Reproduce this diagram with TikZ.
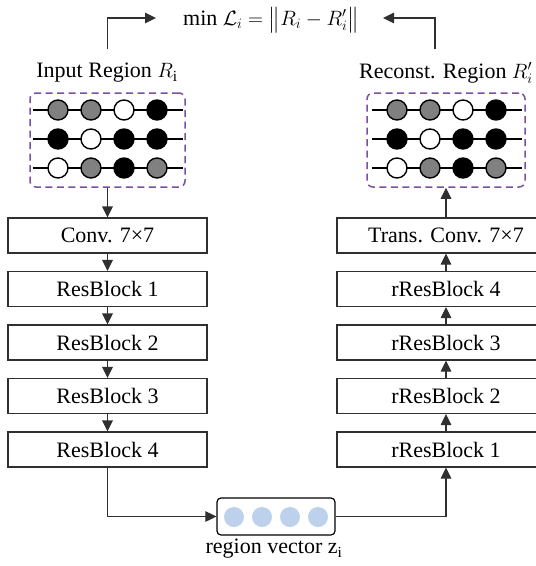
\documentclass[tikz,border=0pt]{standalone}
\usepackage{amsmath}
\usepackage{fontspec}
\setmainfont{Liberation Serif}
\usetikzlibrary{arrows.meta}
\definecolor{lncol}{HTML}{303030}
\definecolor{dashpurple}{HTML}{7A50A6}
\definecolor{vecblue}{HTML}{BDD1EC}
\definecolor{midgray}{HTML}{808080}
\tikzset{
  lay/.style={draw=lncol, line width=1.1pt, minimum height=35pt, inner sep=0pt,
    font=\fontsize{22}{26}\selectfont},
  conn/.style={draw=lncol, line width=1.1pt, -{Triangle[length=11pt,width=10.5pt]}},
  region/.style={draw=dashpurple, line width=1.5pt, dash pattern=on 7pt off 4.5pt,
    rounded corners=6pt, minimum width=155pt, minimum height=94pt, inner sep=0pt},
  dot/.style={circle, draw=black, line width=1.4pt, minimum size=20pt, inner sep=0pt},
  vdot/.style={circle, fill=vecblue, minimum size=20pt, inner sep=0pt},
  lab/.style={font=\fontsize{22}{26}\selectfont, inner sep=0pt},
}
\newcommand{\drawgrid}[2]{%
  % #1 = centre x, #2 = name prefix
  \foreach \yy in {110,139,168} {
    \draw[black, line width=1.4pt] (#1-75,\yy) -- (#1+75,\yy);
  }
  \foreach \fc [count=\k] in {midgray,midgray,white,black} {
    \node[dot, fill=\fc] (#2a\k) at (#1-82.5+33*\k,110) {};
  }
  \foreach \fc [count=\k] in {black,white,black,black} {
    \node[dot, fill=\fc] (#2b\k) at (#1-82.5+33*\k,139) {};
  }
  \foreach \fc [count=\k] in {white,midgray,black,midgray} {
    \node[dot, fill=\fc] (#2c\k) at (#1-82.5+33*\k,168) {};
  }
}
\begin{document}
\begin{tikzpicture}[x=1pt,y=-1pt]
\clip (0,0) rectangle (536,566);
\fill[white] (0,0) rectangle (536,566);

% formula
\node[lab] (loss) at (271,20) {min $\mathcal{L}_i = \bigl\| R_i - R_i' \bigr\|$};

% region labels
\node[lab] (inlab) at (107,73) {Input Region $R_{\mathrm{i}}$};
\node[lab] (outlab) at (446,73) {Reconst. Region $R_i'$};

% dashed regions
\node[region] (inreg) at (107.5,140) {};
\node[region, minimum width=158pt] (outreg) at (446,140) {};
\drawgrid{107.5}{L}
\drawgrid{446.5}{R}

% encoder
\node[lay, minimum width=199pt] (conv) at (107.5,235.5) {Conv. 7×7};
\node[lay, minimum width=199pt] (rb1) at (107.5,289) {ResBlock 1};
\node[lay, minimum width=199pt] (rb2) at (107.5,342.5) {ResBlock 2};
\node[lay, minimum width=199pt] (rb3) at (107.5,396) {ResBlock 3};
\node[lay, minimum width=199pt] (rb4) at (107.5,449.5) {ResBlock 4};

% decoder
\node[lay, minimum width=218pt] (tconv) at (446,235.5) {Trans. Conv. 7×7};
\node[lay, minimum width=218pt] (rr4) at (446,289) {rResBlock 4};
\node[lay, minimum width=218pt] (rr3) at (446,342.5) {rResBlock 3};
\node[lay, minimum width=218pt] (rr2) at (446,396) {rResBlock 2};
\node[lay, minimum width=218pt] (rr1) at (446,449.5) {rResBlock 1};

% region vector
\node[draw=black, line width=1.2pt, rounded corners=4pt, minimum width=118pt,
  minimum height=37pt, inner sep=0pt] (vec) at (276,516.5) {};
\foreach \k in {1,...,4} {
  \node[vdot] (v\k) at (206+28*\k,517) {};
}
\node[lab] (veclab) at (274,549) {region vector z$_{\mathrm{i}}$};

% connectors
\draw[conn] (inreg.south -| conv.north) -- (conv.north);
\draw[conn] (conv) -- (rb1);
\draw[conn] (rb1) -- (rb2);
\draw[conn] (rb2) -- (rb3);
\draw[conn] (rb3) -- (rb4);
\draw[conn] (rb4.south) |- (vec.west);
\draw[conn] (vec.east) -| (rr1.south);
\draw[conn] (rr1) -- (rr2);
\draw[conn] (rr2) -- (rr3);
\draw[conn] (rr3) -- (rr4);
\draw[conn] (rr4) -- (tconv);
\draw[conn] (tconv.north) -- (tconv.north |- outreg.south);

% loss arrows
\coordinate (lstart) at (107.5,49);
\coordinate (lend) at (156,18);
\coordinate (rstart) at (435,49);
\coordinate (rend) at (383,18);
\draw[conn] (lstart) |- (lend);
\draw[conn] (rstart) |- (rend);
\end{tikzpicture}
\end{document}
